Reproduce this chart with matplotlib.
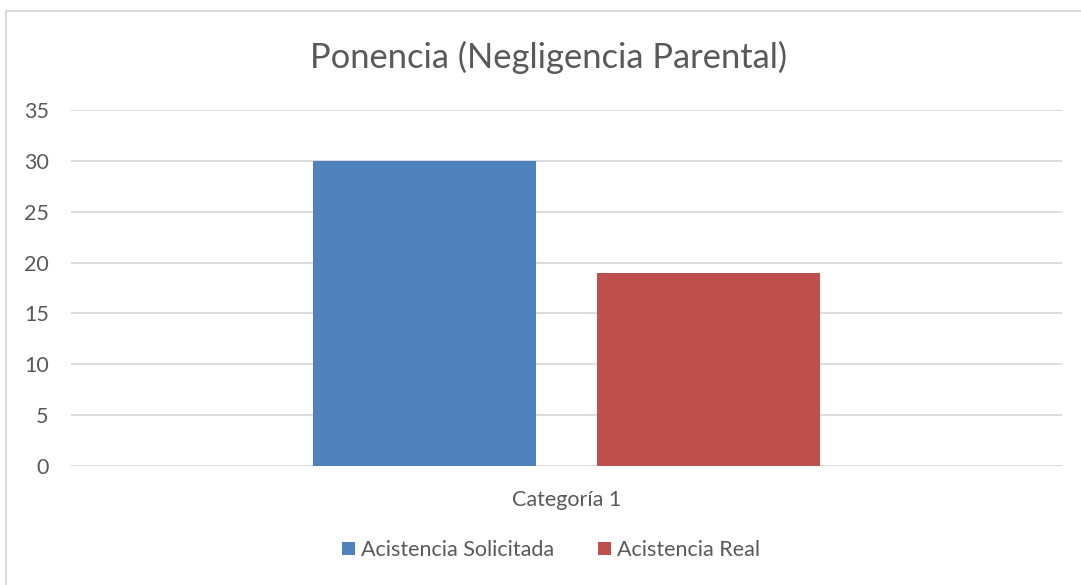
import matplotlib
matplotlib.use("Agg")
import matplotlib.pyplot as plt
from matplotlib.patches import Rectangle, Patch

title = "Ponencia (Negligencia Parental)"
category = ["Categoría 1"]
series_names = ["Acistencia Solicitada", "Acistencia Real"]
series_values = [[30], [19]]
colors = ["#4F81BD", "#C0504D"]
yticks = [0, 5, 10, 15, 20, 25, 30, 35]

plt.rcParams['font.family'] = ['Lato', 'DejaVu Sans']
txt = "#595959"

W, H = 1081, 585
fig = plt.figure(figsize=(W/100, H/100), dpi=100)
fig.patch.set_facecolor("white")

# outer chart frame (partially cropped)
fig.patches.append(Rectangle((6/W, -0.1), 1.2, 1 - 11/H + 0.1, transform=fig.transFigure,
                             fill=False, edgecolor="#D9D9D9", linewidth=1.5))

ax = fig.add_axes([71/W, 1 - 466/H, (1062 - 71)/W, (466 - 110)/H])
width = 0.225
offsets = [-0.1428, 0.1428]
for name, vals, c, off in zip(series_names, series_values, colors, offsets):
    ax.bar([i + off for i in range(len(category))], vals, width=width, color=c, label=name, zorder=3)

ax.set_xlim(-0.5, 0.5)
ax.set_ylim(0, 35)
ax.set_yticks(yticks)
ax.set_yticklabels([str(v) for v in yticks], fontsize=15.5, color=txt)
ax.tick_params(axis='y', length=0, pad=16)
ax.set_xticks(range(len(category)))
ax.set_xticklabels(category, fontsize=15.5, color=txt)
ax.tick_params(axis='x', length=0, pad=17)
ax.grid(axis='y', color="#D9D9D9", linewidth=1.3, zorder=0)
for s in ax.spines.values():
    s.set_visible(False)

fig.text(548/W, 1 - 57/H, title, ha='center', va='center', fontsize=24.8, color=txt)

handles = [Patch(facecolor=c, label=n) for n, c in zip(series_names, colors)]
fig.legend(handles=handles, loc='center', bbox_to_anchor=(551/W, 1 - 550/H), ncol=2,
           frameon=False, fontsize=15.5, labelcolor=txt, handlelength=0.6, handleheight=0.6,
           handletextpad=0.3, columnspacing=2.0)

fig.savefig("out.png", dpi=100)
